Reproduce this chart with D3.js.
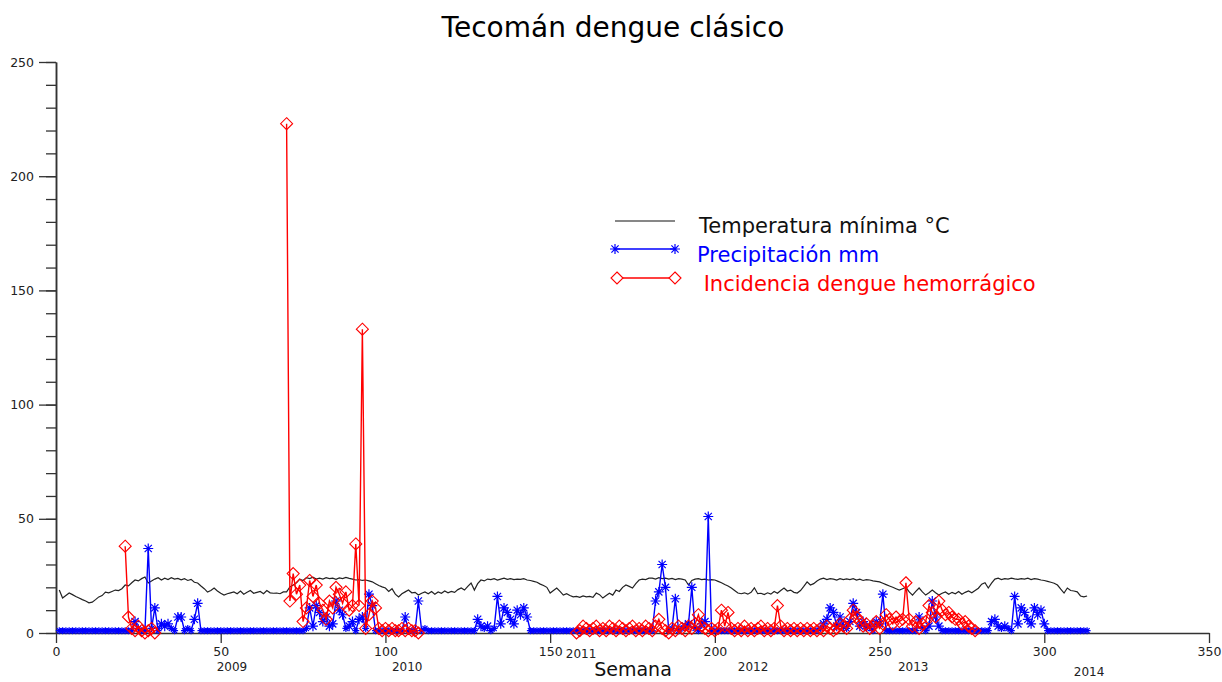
<!DOCTYPE html>
<html lang="es">
<head>
<meta charset="utf-8">
<script src="https://cdn.jsdelivr.net/npm/d3@7"></script>
<style>
  body { margin: 0; background: #fff; }
  svg { font-family: "DejaVu Sans", sans-serif; }
</style>
</head>
<body>
<svg width="1222" height="682"></svg>
<script>
var N = null;

// weekly data, week 1..313
var tempMin = [
  18.8, 15.3, 16.4, 17.5, 16.8, 16.0, 15.3, 14.6, 14.0, 13.2, 13.5, 14.6, 15.8, 16.4, 17.9, 17.6, 18.2, 18.8, 18.6, 19.4,
  21.0, 20.6, 22.0, 23.2, 22.8, 23.8, 24.5, 21.9, 22.8, 23.6, 24.2, 23.2, 24.0, 23.4, 24.2, 23.6, 23.9, 23.3, 23.8, 23.0,
  23.5, 22.2, 21.9, 20.6, 19.4, 17.9, 18.6, 19.7, 18.4, 17.4, 16.6, 17.2, 17.6, 18.0, 17.2, 18.4, 17.0, 17.8, 18.6, 17.4,
  17.8, 18.2, 17.2, 18.6, 17.6, 17.4, 17.5, 17.2, 18.0, 18.0, 20.2, 21.0, 22.0, 23.6, 23.0, 24.2, 23.8, 24.4, 23.6, 24.0,
  23.6, 24.2, 23.8, 24.0, 23.5, 24.1, 23.8, 24.3, 23.9, 23.6, 23.2, 23.4, 23.0, 23.2, 22.8, 22.4, 21.6, 20.8, 20.2, 19.7,
  18.2, 19.4, 17.0, 15.8, 17.2, 18.0, 18.8, 17.6, 17.8, 16.6, 17.4, 18.0, 17.2, 18.2, 17.0, 18.0, 17.4, 18.4, 17.6, 18.2,
  17.8, 19.0, 19.7, 18.8, 20.4, 21.9, 18.8, 21.6, 23.2, 22.8, 23.6, 23.4, 23.8, 23.2, 23.6, 24.0, 23.5, 23.8, 23.4, 23.6,
  23.5, 23.8, 23.2, 23.0, 22.6, 22.2, 21.4, 20.8, 20.0, 17.5, 18.6, 19.7, 18.2, 16.6, 17.2, 16.4, 15.8, 16.0, 15.6, 16.2,
  15.8, 16.0, 15.6, 17.5, 16.8, 15.3, 16.4, 17.4, 16.6, 18.8, 18.2, 20.0, 21.0, 20.4, 19.7, 21.6, 23.2, 23.6, 23.4, 24.0,
  24.0, 23.6, 24.2, 23.8, 24.0, 23.6, 23.9, 23.4, 23.8, 23.6, 23.2, 21.0, 23.0, 23.6, 23.8, 23.4, 23.6, 23.2, 23.4, 23.2,
  22.6, 22.0, 21.2, 20.6, 19.7, 18.6, 17.5, 17.2, 17.6, 17.0, 17.8, 19.8, 17.2, 17.4, 16.8, 17.6, 17.0, 18.2, 17.4, 18.6,
  19.7, 18.4, 18.8, 17.8, 17.5, 18.6, 20.4, 22.4, 21.0, 21.6, 22.8, 23.6, 24.0, 23.4, 23.8, 23.6, 23.2, 23.8, 23.4, 23.7,
  23.4, 23.8, 23.2, 23.6, 23.0, 23.4, 23.2, 22.8, 22.6, 22.4, 21.8, 21.2, 20.6, 20.0, 19.4, 18.8, 19.4, 20.0, 18.0, 16.6,
  18.2, 19.7, 18.0, 16.6, 17.6, 18.8, 17.6, 16.6, 17.4, 18.0, 17.0, 17.8, 17.2, 18.2, 17.0, 17.8, 18.4, 17.6, 18.6, 19.6,
  21.4, 22.0, 19.7, 21.8, 23.6, 24.0, 23.4, 23.8, 23.6, 24.0, 23.7, 23.5, 23.8, 23.6, 24.0, 23.4, 23.8, 23.6, 23.2, 23.0,
  22.6, 22.2, 21.8, 21.0, 19.2, 17.5, 19.7, 18.6, 18.4, 18.0, 16.2, 15.8, 16.2
];

var precip = [
  1, 1, 1, 1, 1, 1, 1, 1, 1, 1, 1, 1, 1, 1, 1, 1, 1, 1, 1, 1,
  1, 1, 1, 5, 2, 1, 1, 37, 2, 11, 1, 4, 3, 4, 2, 1, 7, 7, 1, 2,
  1, 6, 13, 1, 1, 1, 1, 1, 1, 1, 1, 1, 1, 1, 1, 1, 1, 1, 1, 1,
  1, 1, 1, 1, 1, 1, 1, 1, 1, 1, 1, 1, 1, 1, 1, 2, 11, 3, 12, 9,
  5, 7, 3, 4, 14, 10, 8, 2, 3, 5, 1, 6, 7, 2, 17, 12, 1, 1, 1, 1,
  1, 1, 1, 1, 1, 7, 1, 1, 1, 14, 1, 2, 1, 1, 1, 1, 1, 1, 1, 1,
  1, 1, 1, 1, 1, 1, 1, 6, 3, 2, 3, 1, 2, 16, 4, 11, 9, 6, 4, 10,
  8, 11, 7, 1, 1, 1, 1, 1, 1, 1, 1, 1, 1, 1, 1, 1, 1, 1, 1, 1,
  1, 1, 1, 1, 1, 1, 1, 1, 1, 1, 1, 1, 1, 1, 1, 1, 1, 1, 1, 1,
  1, 14, 18, 30, 20, 1, 2, 15, 1, 2, 3, 4, 20, 2, 1, 4, 5, 51, 1, 1,
  1, 1, 1, 1, 1, 1, 1, 1, 1, 1, 1, 1, 1, 1, 1, 1, 1, 1, 1, 1,
  1, 1, 1, 1, 1, 1, 1, 1, 1, 1, 1, 2, 4, 6, 11, 9, 3, 7, 3, 2,
  5, 13, 9, 3, 5, 2, 3, 1, 5, 4, 17, 1, 1, 1, 1, 1, 1, 1, 1, 1,
  1, 7, 2, 1, 3, 14, 7, 3, 1, 1, 1, 1, 1, 1, 1, 1, 1, 1, 1, 1,
  1, 1, 1, 5, 6, 3, 2, 3, 2, 1, 16, 4, 11, 9, 6, 4, 11, 8, 10, 4,
  1, 1, 1, 1, 1, 1, 1, 1, 1, 1, 1, 1, 1
];

var incidencia = [
  N, N, N, N, N, N, N, N, N, N, N, N, N, N, N, N, N, N, N, N,
  38, 7, 2, 1, 3, 1, 0, 1, 2, 0, N, N, N, N, N, N, N, N, N, N,
  N, N, N, N, N, N, N, N, N, N, N, N, N, N, N, N, N, N, N, N,
  N, N, N, N, N, N, N, N, N, 223, 14, 26, 17, 21, 5, 11, 23, 16, 21, 13,
  10, 6, 14, 11, 20, 17, 13, 18, 10, 12, 39, 12, 133, 2, 8, 14, 11, 2, 1, 2,
  1, 2, 1, 1, 2, 1, 2, 1, 1, 0, N, N, N, N, N, N, N, N, N, N,
  N, N, N, N, N, N, N, N, N, N, N, N, N, N, N, N, N, N, N, N,
  N, N, N, N, N, N, N, N, N, N, N, N, N, N, N, N, N, 0, 1, 3,
  2, 1, 2, 3, 1, 2, 1, 3, 2, 1, 3, 2, 1, 2, 3, 1, 2, 1, 3, 2,
  1, 3, 6, 2, 1, 0, 2, 1, 3, 2, 1, 3, 2, 4, 8, 3, 2, 1, 2, 1,
  2, 10, 3, 9, 2, 1, 2, 1, 3, 1, 2, 1, 2, 3, 1, 2, 1, 2, 12, 3,
  1, 2, 1, 2, 1, 2, 1, 2, 1, 2, 1, 2, 1, 3, 2, 1, 2, 4, 3, 2,
  6, 10, 7, 5, 3, 4, 2, 3, 5, 2, 4, 8, 6, 4, 7, 5, 6, 22, 6, 3,
  5, 2, 4, 5, 12, 9, 7, 14, 10, 8, 9, 7, 6, 6, 4, 5, 3, 2, 1, N,
  N, N, N, N, N, N, N, N, N, N, N, N, N, N, N, N, N, N, N, N,
  N, N, N, N, N, N, N, N, N, N, N, N, N
];

var xTicks = [0, 50, 100, 150, 200, 250, 300, 350];
var yTicks = [0, 50, 100, 150, 200, 250];
var yMinorTicks = [0, 10, 20, 30, 40, 50, 60, 70, 80, 90, 100, 110, 120, 130, 140, 150, 160, 170, 180, 190, 200, 210, 220, 230, 240, 250];
var years = ["2009", "2010", "2011", "2012", "2013", "2014"];
var yearWeek = [53.4, 106.6, 159.4, 211.6, 260.2, 313.6];
var yearDy = [671, 671, 658, 671, 671, 676];

var legendNames = ["Temperatura mínima °C", "Precipitación mm", " Incidencia dengue hemorrágico"];
var legendColors = ["#111", "#0000ff", "#ff0000"];

var svg = d3.select("svg"),
    width = +svg.attr("width"),
    height = +svg.attr("height");

var x = d3.scaleLinear().domain([0, 350]).range([56, 1209]);
var y = d3.scaleLinear().domain([0, 250]).range([633, 62]);

// title
svg.append("text")
  .attr("x", 613).attr("y", 37)
  .attr("text-anchor", "middle")
  .attr("font-size", 28)
  .attr("fill", "#000")
  .text("Tecomán dengue clásico");

// axes
var gx = svg.append("g")
  .attr("transform", "translate(0," + y(0) + ")")
  .call(d3.axisBottom(x).tickValues(xTicks).tickSize(10).tickPadding(4).tickSizeOuter(0));

var gyMinor = svg.append("g")
  .attr("transform", "translate(" + x(0) + ",0)")
  .call(d3.axisLeft(y).tickValues(yMinorTicks).tickSize(10).tickFormat("").tickSizeOuter(0));

var gy = svg.append("g")
  .attr("transform", "translate(" + x(0) + ",0)")
  .call(d3.axisLeft(y).tickValues(yTicks).tickSize(17).tickPadding(5).tickSizeOuter(0));

svg.selectAll(".domain").attr("stroke", "#333").attr("stroke-width", 1.5);
svg.selectAll(".tick line").attr("stroke", "#333").attr("stroke-width", 1.3);
svg.selectAll(".tick text")
  .attr("font-size", 12.5)
  .attr("font-family", "DejaVu Sans, sans-serif")
  .attr("fill", "#222");

// year labels under the x axis
svg.selectAll(".year")
  .data(years)
  .enter().append("text")
    .attr("class", "year")
    .attr("x", function(d, i) { return x(yearWeek[i]); })
    .attr("y", function(d, i) { return yearDy[i]; })
    .attr("text-anchor", "middle")
    .attr("font-size", 12)
    .attr("fill", "#222")
    .text(function(d) { return d; });

svg.append("text")
  .attr("x", 633).attr("y", 676)
  .attr("text-anchor", "middle")
  .attr("font-size", 19)
  .attr("fill", "#111")
  .text("Semana");

var line = d3.line()
  .defined(function(d) { return d != null; })
  .x(function(d, i) { return x(i + 1); })
  .y(function(d) { return y(d); });

var astPath = function(r) {
  var a = r * 0.72;
  return "M" + (-r) + ",0L" + r + ",0M0," + (-r) + "L0," + r +
         "M" + (-a) + "," + (-a) + "L" + a + "," + a +
         "M" + (-a) + "," + a + "L" + a + "," + (-a);
};
var diamondPath = function(r) {
  return "M0," + (-r) + "L" + r + ",0L0," + r + "L" + (-r) + ",0Z";
};

// temperatura minima
svg.append("path")
  .datum(tempMin)
  .attr("fill", "none")
  .attr("stroke", "#222")
  .attr("stroke-width", 1.2)
  .attr("d", line);

// precipitacion
svg.append("path")
  .datum(precip)
  .attr("fill", "none")
  .attr("stroke", "#0000ff")
  .attr("stroke-width", 1.4)
  .attr("d", line);

svg.selectAll(".ast")
  .data(precip)
  .enter().append("path")
    .attr("class", "ast")
    .attr("transform", function(d, i) { return "translate(" + x(i + 1) + "," + y(d) + ")"; })
    .attr("d", function(d) { return d > 2 ? astPath(5) : astPath(3.5); })
    .attr("fill", "none")
    .attr("stroke", "#0000ff")
    .attr("stroke-width", 1.2);

// incidencia
svg.append("path")
  .datum(incidencia)
  .attr("fill", "none")
  .attr("stroke", "#ff0000")
  .attr("stroke-width", 1.4)
  .attr("d", line);

svg.selectAll(".dia")
  .data(incidencia.map(function(d, i) { return {v: d, w: i + 1}; }).filter(function(d) { return d.v != null; }))
  .enter().append("path")
    .attr("class", "dia")
    .attr("transform", function(d) { return "translate(" + x(d.w) + "," + y(d.v) + ")"; })
    .attr("d", diamondPath(6))
    .attr("fill", "none")
    .attr("stroke", "#ff0000")
    .attr("stroke-width", 1.1);

// legend
var lg = svg.append("g");
var rowY = [221, 249, 278];
var textY = [233, 262, 291];
var textX = [699, 697, 697];

legendNames.forEach(function(name, i) {
  lg.append("line")
    .attr("x1", 615).attr("x2", 675)
    .attr("y1", rowY[i]).attr("y2", rowY[i])
    .attr("stroke", legendColors[i])
    .attr("stroke-width", i == 0 ? 1.2 : 1.4);
  if (i == 1) {
    [615, 675].forEach(function(px) {
      lg.append("path").attr("transform", "translate(" + px + "," + rowY[i] + ")")
        .attr("d", astPath(5)).attr("fill", "none").attr("stroke", "#0000ff").attr("stroke-width", 1.2);
    });
  }
  if (i == 2) {
    [617, 675].forEach(function(px) {
      lg.append("path").attr("transform", "translate(" + px + "," + rowY[i] + ")")
        .attr("d", diamondPath(6)).attr("fill", "#fff").attr("stroke", "#ff0000").attr("stroke-width", 1.1);
    });
  }
  lg.append("text")
    .attr("x", textX[i]).attr("y", textY[i])
    .attr("font-size", 21)
    .attr("fill", legendColors[i])
    .attr("xml:space", "preserve")
    .style("white-space", "pre")
    .text(name);
});
</script>
</body>
</html>
